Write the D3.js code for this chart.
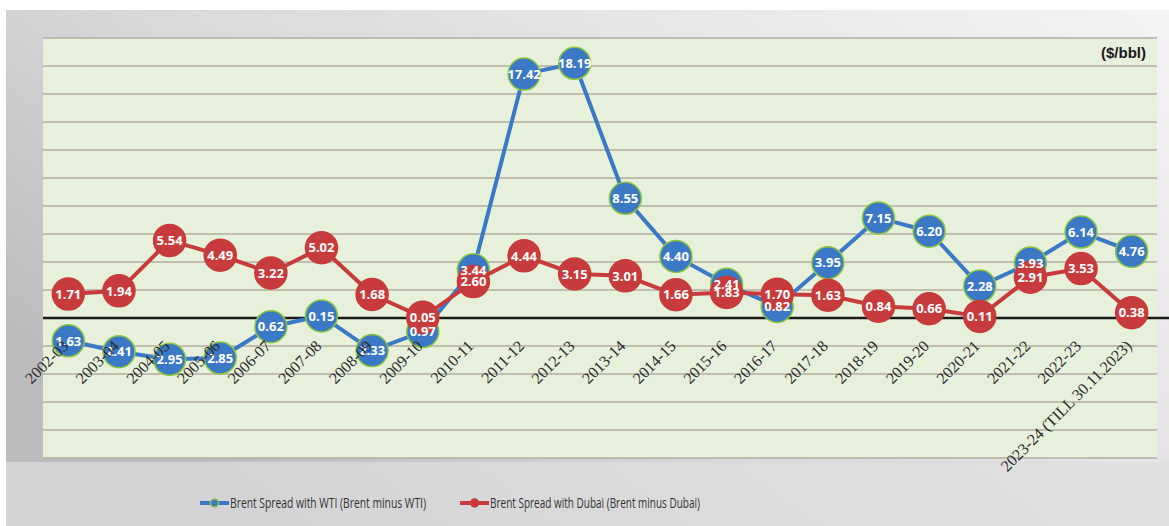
<!DOCTYPE html>
<html>
<head>
<meta charset="utf-8">
<script src="https://cdn.jsdelivr.net/npm/d3@7"></script>
<style>
  body { margin: 0; background: #fff; }
  svg { display: block; }
</style>
</head>
<body>
<svg width="1169" height="526"></svg>
<script>
var years = ["2002-03", "2003-04", "2004-05", "2005-06", "2006-07", "2007-08", "2008-09", "2009-10",
    "2010-11", "2011-12", "2012-13", "2013-14", "2014-15", "2015-16", "2016-17", "2017-18",
    "2018-19", "2019-20", "2020-21", "2021-22", "2022-23", "2023-24 (TILL 30.11.2023)"];
var wtiSpread = [-1.63, -2.41, -2.95, -2.85, -0.62, 0.15, -2.33, -0.97, 3.44, 17.42, 18.19, 8.55,
    4.40, 2.41, 0.82, 3.95, 7.15, 6.20, 2.28, 3.93, 6.14, 4.76];
var dubaiSpread = [1.71, 1.94, 5.54, 4.49, 3.22, 5.02, 1.68, 0.05, 2.60, 4.44, 3.15, 3.01,
    1.66, 1.83, 1.70, 1.63, 0.84, 0.66, 0.11, 2.91, 3.53, 0.38];
var seriesNames = ["Brent Spread with WTI (Brent minus WTI)", "Brent Spread with Dubai (Brent minus Dubai)"];
var yTicks = d3.range(-10, 21, 2);

var svg = d3.select("svg"),
    width = +svg.attr("width"),
    height = +svg.attr("height");

// plot box (note: "top" is taken by window.top, so use other names)
var plotL = 43, plotR = 1157, plotT = 38, plotB = 458;

var defs = svg.append("defs");
var grad = defs.append("linearGradient")
    .attr("id", "panel")
    .attr("x1", "0").attr("y1", "0.6").attr("x2", "1").attr("y2", "0");
grad.append("stop").attr("offset", "0").attr("stop-color", "#bcbcbe");
grad.append("stop").attr("offset", "0.35").attr("stop-color", "#d9d9da");
grad.append("stop").attr("offset", "1").attr("stop-color", "#f4f4f4");

// outer grey panel
svg.append("rect")
    .attr("x", 6).attr("y", 10)
    .attr("width", width - 6).attr("height", height - 10)
    .attr("fill", "url(#panel)");
svg.append("rect")
    .attr("x", 6).attr("y", 462)
    .attr("width", width - 6).attr("height", height - 462)
    .attr("fill", "#dededf").attr("opacity", 0.7);

// plot area
svg.append("rect")
    .attr("x", plotL).attr("y", plotT)
    .attr("width", plotR - plotL).attr("height", plotB - plotT)
    .attr("fill", "#e7f0da");

var x = d3.scaleBand()
    .domain(years)
    .range([plotL, plotR]);

var y = d3.scaleLinear()
    .domain([-10, 20])
    .range([plotB, plotT]);

function cx(d, i) { return x(years[i]) + x.bandwidth() / 2; }

svg.append("g").selectAll("line")
    .data(yTicks.filter(function(t) { return t !== 0; }))
    .enter().append("line")
    .attr("x1", plotL).attr("x2", plotR)
    .attr("y1", function(d) { return y(d); })
    .attr("y2", function(d) { return y(d); })
    .attr("stroke", "#b3ae9f")
    .attr("stroke-width", 1.5);

svg.append("line")
    .attr("x1", plotL).attr("x2", width)
    .attr("y1", y(0)).attr("y2", y(0))
    .attr("stroke", "#1a1a1a")
    .attr("stroke-width", 2.5);

var line = d3.line()
    .x(cx)
    .y(function(d) { return y(d); });

function drawSeries(values, color, edge) {
    svg.append("path")
        .datum(values)
        .attr("d", line)
        .attr("fill", "none")
        .attr("stroke", color)
        .attr("stroke-width", 4);
    svg.append("g").selectAll("circle")
        .data(values)
        .enter().append("circle")
        .attr("cx", cx)
        .attr("cy", function(d) { return y(d); })
        .attr("r", 16)
        .attr("fill", color)
        .attr("stroke", edge)
        .attr("stroke-width", 1.5);
}

drawSeries(wtiSpread, "#3b78c6", "#8cc63e");
drawSeries(dubaiSpread, "#c73b3c", "#c73b3c");

function drawLabels(values) {
    svg.append("g").selectAll("text")
        .data(values)
        .enter().append("text")
        .attr("x", cx)
        .attr("y", function(d) { return y(d); })
        .attr("dy", "0.36em")
        .attr("text-anchor", "middle")
        .attr("font-family", "'Open Sans', 'Noto Sans', sans-serif")
        .attr("font-weight", "bold")
        .attr("font-size", 13)
        .attr("fill", "#fff")
        .text(function(d) { return Math.abs(d).toFixed(2); });
}
drawLabels(wtiSpread);
drawLabels(dubaiSpread);

// category labels along the zero line
svg.append("g").selectAll("text")
    .data(years)
    .enter().append("text")
    .attr("transform", function(d) {
        return "translate(" + (x(d) + x.bandwidth() / 2 + 1) + "," + (y(0) + 29) + ") rotate(-45)";
    })
    .attr("text-anchor", "end")
    .attr("font-family", "'Liberation Serif', 'DejaVu Serif', serif")
    .attr("font-size", 16)
    .attr("fill", "#2b2b2b")
    .text(function(d) { return d; });

svg.append("text")
    .attr("x", 1146).attr("y", 58)
    .attr("text-anchor", "end")
    .attr("font-family", "'Liberation Sans', Arial, sans-serif")
    .attr("font-weight", "bold")
    .attr("font-size", 15)
    .attr("fill", "#1a1a1a")
    .text("($/bbl)");

// legend
var legend = [
    { name: seriesNames[0], color: "#3b78c6", edge: "#8cc63e", x: 200, len: 196 },
    { name: seriesNames[1], color: "#c73b3c", edge: "#c73b3c", x: 460, len: 210 }
];
var lg = svg.append("g").selectAll("g")
    .data(legend)
    .enter().append("g")
    .attr("transform", function(d) { return "translate(" + d.x + ",503)"; });
lg.append("line")
    .attr("x1", 0).attr("x2", 29)
    .attr("stroke", function(d) { return d.color; })
    .attr("stroke-width", 4);
lg.append("circle")
    .attr("cx", 14.5).attr("r", 4)
    .attr("fill", function(d) { return d.color; })
    .attr("stroke", function(d) { return d.edge; })
    .attr("stroke-width", 1.5);
lg.append("text")
    .attr("x", 30)
    .attr("dy", "0.35em")
    .attr("font-family", "'Open Sans', 'Noto Sans', sans-serif")
    .attr("font-size", 15)
    .attr("fill", "#333")
    .attr("textLength", function(d) { return d.len; })
    .attr("lengthAdjust", "spacingAndGlyphs")
    .text(function(d) { return d.name; });
</script>
</body>
</html>
